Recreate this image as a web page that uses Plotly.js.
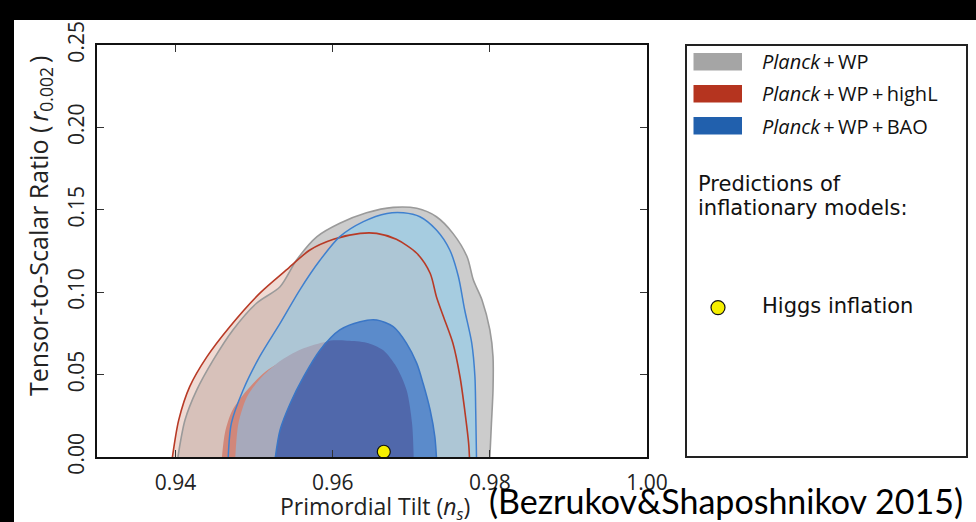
<!DOCTYPE html>
<html>
<head>
<meta charset="utf-8">
<script src="https://cdn.plot.ly/plotly-3.0.1.min.js"></script>
<style>
  html, body { margin: 0; padding: 0; background: #ffffff; }
  #chart { width: 976px; height: 522px; }
</style>
</head>
<body>
<div id="chart"></div>
<script>
// Constraint contours in the (n_s, r) plane, closed along r = 0.

// Planck+WP, 95% region
const planckWP95Ns = [0.9403, 0.9412, 0.9427, 0.9448, 0.9473, 0.9503, 0.9533, 0.9554, 0.9580, 0.9609, 0.9643, 0.9677, 0.9707, 0.9732, 0.9753, 0.9771, 0.9779, 0.9790, 0.9800, 0.9804, 0.9804, 0.9802, 0.9800];
const planckWP95R  = [0.0000, 0.0224, 0.0407, 0.0589, 0.0771, 0.0933, 0.1033, 0.1195, 0.1337, 0.1418, 0.1482, 0.1515, 0.1509, 0.1458, 0.1357, 0.1215, 0.1074, 0.0953, 0.0771, 0.0609, 0.0407, 0.0204, 0.0000];

// Planck+WP+highL, 95% region
const highL95Ns = [0.9396, 0.9404, 0.9418, 0.9440, 0.9469, 0.9507, 0.9541, 0.9571, 0.9601, 0.9635, 0.9656, 0.9681, 0.9707, 0.9724, 0.9732, 0.9741, 0.9753, 0.9762, 0.9768, 0.9773, 0.9774];
const highL95R  = [0.0000, 0.0224, 0.0427, 0.0609, 0.0791, 0.0993, 0.1135, 0.1256, 0.1321, 0.1357, 0.1357, 0.1321, 0.1236, 0.1115, 0.0973, 0.0851, 0.0690, 0.0487, 0.0285, 0.0083, 0.0000];

// Planck+WP+BAO, 95% region
const bao95Ns = [0.9467, 0.9471, 0.9486, 0.9507, 0.9533, 0.9558, 0.9584, 0.9609, 0.9639, 0.9669, 0.9690, 0.9711, 0.9732, 0.9749, 0.9760, 0.9768, 0.9777, 0.9781, 0.9782, 0.9783];
const bao95R  = [0.0000, 0.0204, 0.0407, 0.0609, 0.0811, 0.1013, 0.1195, 0.1337, 0.1428, 0.1478, 0.1482, 0.1458, 0.1377, 0.1256, 0.1094, 0.0892, 0.0690, 0.0487, 0.0285, 0.0000];

// Planck+WP+highL, 68% region
const highL68Ns = [0.9459, 0.9463, 0.9472, 0.9490, 0.9515, 0.9545, 0.9580, 0.9610, 0.9640, 0.9665, 0.9682, 0.9690, 0.9692];
const highL68R  = [0.0000, 0.0150, 0.0280, 0.0400, 0.0520, 0.0600, 0.0640, 0.0630, 0.0560, 0.0440, 0.0280, 0.0120, 0.0000];

// Planck+WP, 68% region
const planckWP68Ns = [0.9476, 0.9480, 0.9491, 0.9510, 0.9535, 0.9563, 0.9592, 0.9618, 0.9643, 0.9664, 0.9681, 0.9694, 0.9701, 0.9703];
const planckWP68R  = [0.0000, 0.0204, 0.0366, 0.0487, 0.0589, 0.0660, 0.0700, 0.0706, 0.0694, 0.0649, 0.0548, 0.0407, 0.0204, 0.0000];

// Planck+WP+BAO, 68% region
const bao68Ns = [0.9527, 0.9533, 0.9546, 0.9563, 0.9584, 0.9609, 0.9635, 0.9656, 0.9677, 0.9694, 0.9707, 0.9715, 0.9724, 0.9730, 0.9732];
const bao68R  = [0.0000, 0.0164, 0.0326, 0.0487, 0.0649, 0.0771, 0.0821, 0.0831, 0.0791, 0.0690, 0.0568, 0.0447, 0.0285, 0.0123, 0.0000];

// Model prediction
const modelNames = ['Higgs inflation'];
const modelNs = [0.9665];
const modelR  = [0.0032];

// Axis ticks
const xTickVals = [0.94, 0.96, 0.98, 1.00];
const xTickText = ['0.94', '0.96', '0.98', '1.00'];
const yTickVals = [0.00, 0.05, 0.10, 0.15, 0.20, 0.25];
const yTickText = ['0.00', '0.05', '0.10', '0.15', '0.20', '0.25'];

// Legend entries
const seriesLabels = ['<i>Planck</i>\u2009+\u2009WP', '<i>Planck</i>\u2009+\u2009WP\u2009+\u2009highL', '<i>Planck</i>\u2009+\u2009WP\u2009+\u2009BAO'];
const seriesSwatch = ['#a5a5a5', '#b5341f', '#2160ad'];

const texFont = '"Open Sans", "Noto Sans", sans-serif';
const plainFont = '"DejaVu Sans", sans-serif';

const smooth = { shape: 'spline', smoothing: 0.8 };

function region(x, y, fillcolor) {
  return { x: x, y: y, type: 'scatter', mode: 'lines', fill: 'toself', fillcolor: fillcolor,
           line: Object.assign({ width: 0 }, smooth), hoverinfo: 'skip', showlegend: false };
}
function outline(x, y, color, width) {
  return { x: x, y: y, type: 'scatter', mode: 'lines',
           line: Object.assign({ color: color, width: width }, smooth),
           hoverinfo: 'skip', showlegend: false };
}

// Part of the BAO 68% region that also lies inside the Planck+WP 68% region:
// left flank of the BAO contour up to where it meets the top of the Planck+WP one.
const overlapNs = bao68Ns.slice(0, 5).concat(planckWP68Ns.slice(6));
const overlapR  = bao68R.slice(0, 5).concat(planckWP68R.slice(6));

const data = [
  region(planckWP95Ns, planckWP95R, 'rgb(204,204,204)'),
  region(highL95Ns, highL95R, 'rgba(225,181,167,0.5)'),
  region(bao95Ns, bao95R, 'rgba(111,204,255,0.4)'),
  region(highL68Ns, highL68R, 'rgb(209,135,122)'),
  region(planckWP68Ns, planckWP68R, 'rgb(167,169,187)'),
  region(bao68Ns, bao68R, 'rgb(91,139,203)'),
  region(overlapNs, overlapR, 'rgb(80,104,171)'),
  outline(planckWP95Ns, planckWP95R, '#9a9a9a', 1.6),
  outline(highL95Ns, highL95R, '#b83a26', 1.6),
  outline(bao95Ns, bao95R, '#3f80cf', 1.5),
  outline(bao68Ns, bao68R, '#3a76c6', 1.5),
  { x: modelNs, y: modelR, text: modelNames, type: 'scatter', mode: 'markers', cliponaxis: false,
    marker: { size: 13, color: '#f5ef00', line: { color: '#111', width: 1.2 } },
    hoverinfo: 'text', showlegend: false }
];

// pixel helpers for placing things around the axes (plot area 97..647 x 45..457)
const px = v => (v - 97) / 550;
const py = v => (457 - v) / 412;

const shapes = [
  // legend frame
  { type: 'rect', xref: 'paper', yref: 'paper', x0: px(686), x1: px(967), y0: py(457), y1: py(45),
    line: { color: '#222', width: 2 }, fillcolor: 'rgba(0,0,0,0)' },
  // legend marker
  { type: 'circle', xref: 'paper', yref: 'paper', x0: px(711), x1: px(725), y0: py(314.6), y1: py(300.6),
    line: { color: '#111', width: 1.2 }, fillcolor: '#f5ef00' },
  // dark border strips
  { type: 'rect', xref: 'paper', yref: 'paper', x0: px(-10), x1: px(990), y0: py(20), y1: py(-10),
    line: { width: 0 }, fillcolor: '#000', layer: 'above' },
  { type: 'rect', xref: 'paper', yref: 'paper', x0: px(-10), x1: px(14), y0: py(530), y1: py(-10),
    line: { width: 0 }, fillcolor: '#000', layer: 'above' }
];
const swatchTops = [53, 85, 117];
seriesSwatch.forEach((c, i) => {
  shapes.push({ type: 'rect', xref: 'paper', yref: 'paper', x0: px(693.5), x1: px(742),
    y0: py(swatchTops[i] + 17.5), y1: py(swatchTops[i]), line: { width: 0 }, fillcolor: c });
});

function label(x, y, text, font, extra) {
  return Object.assign({ xref: 'paper', yref: 'paper', x: px(x), y: py(y), xanchor: 'center', yanchor: 'middle',
    showarrow: false, text: text, font: font }, extra || {});
}

const annotations = [
  label(39, 226, 'Tensor-to-Scalar Ratio (\u2009<i>r</i><sub>0.002</sub>\u2009)', { family: texFont, size: 25, color: '#222' }, { textangle: -90 }),
  label(375, 507, 'Primordial Tilt (<i>n<sub>s</sub></i>)', { family: texFont, size: 23, color: '#222' }),
  label(696, 184, 'Predictions of', { family: plainFont, size: 21, color: '#111' }, { xanchor: 'left' }),
  label(696, 208, 'inflationary models:', { family: plainFont, size: 21, color: '#111' }, { xanchor: 'left' }),
  label(760, 306, modelNames[0], { family: plainFont, size: 21, color: '#111' }, { xanchor: 'left' }),
  label(487, 500, '(Bezrukov&amp;Shaposhnikov 2015)', { family: 'Lato, "Open Sans", sans-serif', size: 34, color: '#000' }, { xanchor: 'left' })
];
const labelMids = [62, 94, 126];
seriesLabels.forEach((t, i) => {
  annotations.push(label(760, labelMids[i], t, { family: texFont, size: 20, color: '#111' }, { xanchor: 'left' }));
});

const axisCommon = {
  showgrid: false, zeroline: false, showline: true, linecolor: '#111', linewidth: 1.6,
  ticks: 'inside', ticklen: 7, tickwidth: 1.2, tickcolor: '#333', mirror: 'ticks',
  tickfont: { family: texFont, size: 21, color: '#222' }, tickmode: 'array'
};

const layout = {
  width: 976, height: 522,
  margin: { l: 97, r: 329, t: 45, b: 65, pad: 0 },
  paper_bgcolor: '#ffffff', plot_bgcolor: '#ffffff',
  showlegend: false,
  xaxis: Object.assign({}, axisCommon, { range: [0.93, 1.00], tickvals: xTickVals, ticktext: xTickText, ticklabelstandoff: 6 }),
  yaxis: Object.assign({}, axisCommon, { range: [0, 0.25], tickvals: yTickVals, ticktext: yTickText, tickangle: -90, ticklabelstandoff: 3 }),
  shapes: shapes,
  annotations: annotations
};

Plotly.newPlot('chart', data, layout, { staticPlot: true, displayModeBar: false });
</script>
</body>
</html>
